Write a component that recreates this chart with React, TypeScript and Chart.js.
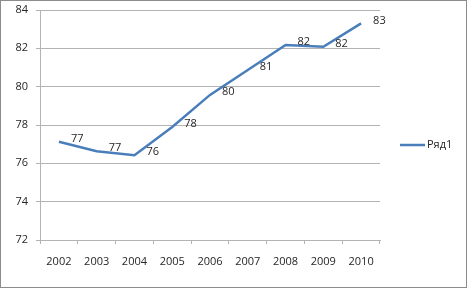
import React, { useEffect, useRef } from "react";
import { Chart, registerables } from "chart.js";

Chart.register(...registerables);

const categories = ["2002", "2003", "2004", "2005", "2006", "2007", "2008", "2009", "2010"];
const seriesName = "Ряд1";
const seriesValues = [77.13, 76.63, 76.42, 77.9, 79.57, 80.87, 82.17, 82.08, 83.3];
const labelValues = ["77", "77", "76", "78", "80", "81", "82", "82", "83"];
const yMin = 72;
const yMax = 84;
const yStep = 2;

const FONT = "'Open Sans', 'Liberation Sans', sans-serif";
const LINE_COLOR = "#4a7ebb";
const TEXT_COLOR = "#262626";
const GRID_COLOR = "#b3b3b3";

const decorPlugin = {
  id: "decor",
  afterDatasetsDraw(chart: any) {
    const ctx = chart.ctx;
    const meta = chart.getDatasetMeta(0);
    ctx.save();
    ctx.font = `11px ${FONT}`;
    ctx.fillStyle = TEXT_COLOR;
    ctx.textAlign = "left";
    ctx.textBaseline = "middle";
    meta.data.forEach((pt: any, i: number) => {
      ctx.fillText(labelValues[i], pt.x + 12, pt.y - 3);
    });
    // legend
    const area = chart.chartArea;
    const ly = 145;
    const lx = area.right + 20;
    ctx.strokeStyle = LINE_COLOR;
    ctx.lineWidth = 2.5;
    ctx.beginPath();
    ctx.moveTo(lx, ly);
    ctx.lineTo(lx + 25, ly);
    ctx.stroke();
    ctx.fillText(chart.data.datasets[0].label, lx + 27, ly);
    // outer frame
    ctx.strokeStyle = "#8c8c8c";
    ctx.lineWidth = 1;
    ctx.strokeRect(0.5, 0.5, chart.width - 2, chart.height - 2);
    ctx.restore();
  },
};

export default function App() {
  const ref = useRef<HTMLCanvasElement | null>(null);
  useEffect(() => {
    document.body.style.margin = "0";
    const canvas = ref.current!;
    const chart = new Chart(canvas, {
      type: "line",
      data: {
        labels: categories,
        datasets: [
          {
            label: seriesName,
            data: seriesValues,
            borderColor: LINE_COLOR,
            borderWidth: 2.5,
            pointRadius: 0,
            tension: 0,
            fill: false,
          },
        ],
      },
      options: {
        animation: false,
        responsive: false,
        maintainAspectRatio: false,
        layout: { padding: { top: 10, left: 0, right: 88, bottom: 0 } },
        plugins: { legend: { display: false }, tooltip: { enabled: false } },
        scales: {
          x: {
            type: "category",
            offset: true,
            grid: {
              offset: true,
              drawOnChartArea: false,
              drawTicks: true,
              tickLength: 4,
              color: GRID_COLOR,
            },
            border: { color: GRID_COLOR },
            ticks: { color: TEXT_COLOR, font: { family: FONT, size: 11 }, padding: 11, maxRotation: 0 },
            afterFit: (s: any) => {
              s.height = 49;
            },
          },
          y: {
            min: yMin,
            max: yMax,
            grid: { color: GRID_COLOR, tickLength: 4 },
            border: { color: GRID_COLOR },
            ticks: { stepSize: yStep, color: TEXT_COLOR, font: { family: FONT, size: 11 }, padding: 8 },
            afterFit: (s: any) => {
              s.width = 40;
              s.paddingTop = 0;
              s.paddingBottom = 0;
            },
          },
        },
      },
      plugins: [decorPlugin],
    });
    return () => chart.destroy();
  }, []);
  return <canvas ref={ref} width={468} height={289} style={{ display: "block" }} />;
}
